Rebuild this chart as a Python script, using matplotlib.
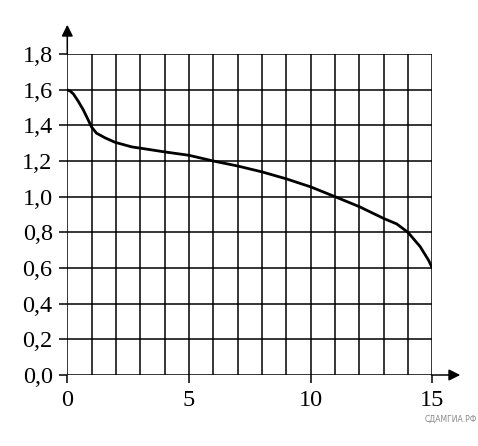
import matplotlib
matplotlib.use("Agg")
import matplotlib.pyplot as plt
from matplotlib.ticker import FixedLocator, FixedFormatter

# data
x_vals = [0, 0.12, 0.25, 0.45, 0.66, 0.86, 1.0, 1.2, 1.55, 1.96, 2.65, 3, 4, 5, 6, 7, 8, 9, 10, 11, 12, 13, 13.54, 14, 14.5, 14.84, 15]
y_vals = [1.598, 1.592, 1.576, 1.535, 1.486, 1.43, 1.39, 1.356, 1.33, 1.305, 1.279, 1.272, 1.251, 1.232, 1.20, 1.172, 1.139, 1.10, 1.055, 1.00, 0.944, 0.878, 0.847, 0.80, 0.72, 0.645, 0.60]

y_ticks = [0.0, 0.2, 0.4, 0.6, 0.8, 1.0, 1.2, 1.4, 1.6, 1.8]
y_tick_labels = ["0,0", "0,2", "0,4", "0,6", "0,8", "1,0", "1,2", "1,4", "1,6", "1,8"]
x_ticks = [0, 5, 10, 15]
x_tick_labels = ["0", "5", "10", "15"]
x_grid = list(range(0, 16))

W, H = 478, 446
fig = plt.figure(figsize=(W / 100, H / 100), dpi=100)
left, right, bottom, top = 67.3, 432.3, 375.0, 54.0
ax = fig.add_axes([left / W, 1 - bottom / H, (right - left) / W, (bottom - top) / H])
ax.set_xlim(0, 15)
ax.set_ylim(0, 1.8)

for s in ax.spines.values():
    s.set_visible(False)

for xv in x_grid:
    ax.axvline(xv, color="black", lw=1.1, zorder=1)
for yv in y_ticks:
    ax.axhline(yv, color="black", lw=1.1, zorder=1)

ax.plot(x_vals, y_vals, color="black", lw=2.0, zorder=3,
        solid_capstyle="round", solid_joinstyle="round")

ax.yaxis.set_major_locator(FixedLocator(y_ticks))
ax.yaxis.set_major_formatter(FixedFormatter(y_tick_labels))
ax.xaxis.set_major_locator(FixedLocator(x_ticks))
ax.xaxis.set_major_formatter(FixedFormatter(x_tick_labels))
ax.tick_params(axis="both", direction="out", length=5.5, width=1.1, color="black",
               labelsize=17.5)
ax.tick_params(axis="x", pad=5)
ax.tick_params(axis="y", pad=5)
for lab in ax.get_xticklabels() + ax.get_yticklabels():
    lab.set_family("Liberation Serif")

# axis arrows
ax_h = bottom - top
ax_w = right - left
ytip = (bottom - 22) / ax_h
xtip = (463 - left) / ax_w
ax.annotate("", xy=(0, ytip), xytext=(0, 0.99), xycoords="axes fraction",
            arrowprops=dict(arrowstyle="-|>", color="black", lw=1.1, mutation_scale=17),
            annotation_clip=False)
ax.annotate("", xy=(xtip, 0), xytext=(0.99, 0), xycoords="axes fraction",
            arrowprops=dict(arrowstyle="-|>", color="black", lw=1.1, mutation_scale=17),
            annotation_clip=False)

fig.text(477 / W, 1 - 419 / H, "СДАМГИА.РФ", ha="right", va="center",
         fontsize=5.5, color="#888888", family="DejaVu Sans")

fig.savefig("out.png", dpi=100, facecolor="white")
